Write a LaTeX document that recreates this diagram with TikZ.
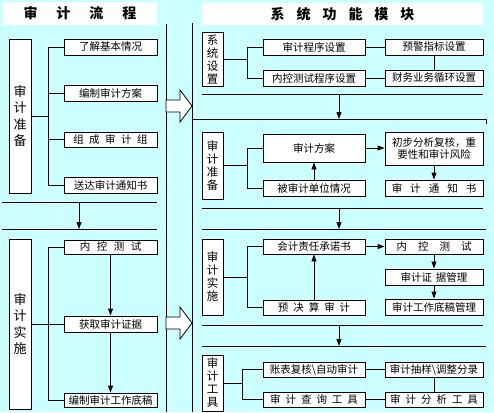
\documentclass[tikz,border=0pt]{standalone}
\usepackage{fontspec}
\newfontfamily\cjk{Noto Sans CJK SC}
\usetikzlibrary{arrows.meta}
\definecolor{PanelCyan}{RGB}{204,255,255}
\begin{document}
\begin{tikzpicture}[x=1pt,y=-1pt,line width=0.9pt,
    box/.style={draw,fill=white,inner sep=0pt,minimum height=16pt,font=\cjk\fontsize{10.5}{12}\selectfont},
    lbox/.style={box,minimum width=93pt},
    mbox/.style={box,minimum width=102pt},
    rbox/.style={box,minimum width=98pt},
    stage/.style={draw,fill=white,inner sep=0pt,minimum width=22pt,align=center,font=\cjk\fontsize{13}{16.5}\selectfont},
    module/.style={draw,fill=white,inner sep=0pt,minimum width=21pt,align=center,font=\cjk\fontsize{11.5}{13}\selectfont},
    titlebar/.style={fill=white,inner sep=0pt,font=\cjk\bfseries\fontsize{14}{16}\selectfont},
    flow/.style={-{Triangle[width=5pt,length=7pt]}},
    fatarrow/.style={draw,fill=white,line width=0.8pt}]
  \useasboundingbox (0,0) rectangle (494,412);
  \fill[PanelCyan] (0,0) rectangle (494,412);

  % titles
  \node[titlebar,minimum width=154pt,minimum height=23pt] (ltitle) at (80,13.5)
    {审\hspace{19pt}计\hspace{19pt}流\hspace{19pt}程};
  \node[titlebar,minimum width=281pt,minimum height=22pt] (rtitle) at (342.5,14)
    {系\hspace{12pt}统\hspace{12pt}功\hspace{12pt}能\hspace{12pt}模\hspace{12pt}块};

  % middle rules and big arrows
  \draw (166,24) -- (166,412);
  \draw (192,23) -- (192,412);
  \draw[fatarrow] (166,100) -- (180,100) -- (180,90) -- (192,106) -- (180,122) -- (180,112) -- (166,112) -- cycle;
  \draw[fatarrow] (166,317) -- (180,317) -- (180,307) -- (192,323) -- (180,339) -- (180,329) -- (166,329) -- cycle;

  % left: audit preparation
  \node[stage,minimum height=154pt] (lprep) at (20,116) {审\\计\\准\\备};
  \node[lbox] (lp1) at (110.5,47) {了解基本情况};
  \node[lbox] (lp2) at (110.5,93) {编制审计方案};
  \node[lbox,minimum height=15pt] (lp3) at (110.5,139.5)
    {组\hspace{5.5pt}成\hspace{5.5pt}审\hspace{5.5pt}计\hspace{5.5pt}组};
  \node[lbox] (lp4) at (110.5,185) {送达审计通知书};
  \coordinate (lbus) at (48,0);
  \draw (lprep.east) -- (lprep.east -| lbus);
  \draw (lp1.west) -- (lp1.west -| lbus) -- (lp4.west -| lbus) -- (lp4.west);
  \draw (lp2.west) -- (lp2.west -| lbus);
  \draw (lp3.west) -- (lp3.west -| lbus);

  \coordinate (lsep1a) at (2,202);
  \coordinate (lsep1b) at (157,202);
  \coordinate (lsep2a) at (2,229);
  \coordinate (lsep2b) at (157,229);
  \coordinate (ldown) at (79,202);
  \draw (lsep1a) -- (lsep1b);
  \draw (lsep2a) -- (lsep2b);
  \draw[flow] (ldown) -- (ldown |- lsep2a);

  % left: audit implementation
  \node[stage,minimum height=170pt] (limpl) at (20,324) {审\\计\\实\\施};
  \node[lbox,minimum height=14pt] (li1) at (110.5,247)
    {内\hspace{6.5pt}控\hspace{6.5pt}测\hspace{6.5pt}试};
  \node[lbox] (li2) at (110.5,324) {获取审计证据};
  \node[lbox,minimum height=14pt] (li3) at (110.5,400) {编制审计工作底稿};
  \draw (limpl.east) -- (limpl.east -| lbus);
  \draw (li1.west) -- (li1.west -| lbus) -- (li3.west -| lbus) -- (li3.west);
  \draw (li2.west) -- (li2.west -| lbus);
  \draw[flow] (li1) -- (li2);
  \draw[flow] (li2) -- (li3);

  % right: system settings
  \node[module,minimum height=54pt] (rset) at (212.5,59) {系\\统\\设\\置};
  \node[mbox] (rs1) at (314,47) {审计程序设置};
  \node[mbox] (rs2) at (314,78) {内控测试程序设置};
  \node[rbox] (rs3) at (434,47) {预警指标设置};
  \node[rbox] (rs4) at (434,78) {财务业务循环设置};
  \coordinate (rbus) at (247,0);
  \draw (rset.east) -- (rset.east -| rbus);
  \draw (rs1.west) -- (rs1.west -| rbus) -- (rs2.west -| rbus) -- (rs2.west);
  \draw (rs1) -- (rs3);
  \draw (rs2) -- (rs4);
  \draw (rs3) -- (rs4);

  \coordinate (rsep1a) at (202,94);
  \coordinate (rsep1b) at (483,94);
  \coordinate (rsep2a) at (192,119);
  \coordinate (rsep2b) at (486,119);
  \coordinate (rdown1) at (339,94);
  \draw (rsep1a) -- (rsep1b);
  \draw (rsep2a) -- (rsep2b) -- ++(0,5);
  \draw[flow] (rdown1) -- (rdown1 |- rsep2a);

  % right: audit preparation
  \node[module,minimum height=67pt] (rprep) at (212.5,165.5) {审\\计\\准\\备};
  \node[mbox,minimum height=28pt] (rp1) at (314,148) {审计方案};
  \node[mbox] (rp2) at (314,188) {被审计单位情况};
  \node[rbox,minimum height=33pt,align=center] (rp3) at (434,148.5) {初步分析复核，重\\要性和审计风险};
  \node[rbox] (rp4) at (434,188) {审\hspace{8pt}计\hspace{8pt}通\hspace{8pt}知\hspace{8pt}书};
  \draw (rprep.east) -- (rprep.east -| rbus);
  \draw (rp1.west) -- (rp1.west -| rbus) -- (rp2.west -| rbus) -- (rp2.west);
  \draw[flow] (rp2) -- (rp1);
  \draw[flow] (rp1.east) -- (rp1.east -| rp3.west);
  \draw[flow] (rp3) -- (rp4);

  \coordinate (rsep3a) at (202,208);
  \coordinate (rsep3b) at (483,208);
  \coordinate (rsep4a) at (202,229);
  \coordinate (rsep4b) at (486,229);
  \coordinate (rdown2) at (339,208);
  \draw (rsep3a) -- (rsep3b);
  \draw (rsep4a) -- (rsep4b);
  \draw[flow] (rdown2) -- (rdown2 |- rsep4a);

  % right: audit implementation
  \node[module,minimum height=76pt] (rimpl) at (212.5,277) {审\\计\\实\\施};
  \node[mbox,minimum height=15pt] (ri1) at (314,246.5) {会计责任承诺书};
  \node[mbox,minimum height=15pt] (ri2) at (314,307.5)
    {预\hspace{5pt}决\hspace{5pt}算\hspace{5pt}审\hspace{5pt}计};
  \node[rbox,minimum height=15pt] (ri3) at (434,246.5)
    {内\hspace{11pt}控\hspace{11pt}测\hspace{11pt}试};
  \node[rbox] (ri4) at (434,277) {审计证\hspace{4pt}据管理};
  \node[rbox] (ri5) at (434,307) {审计工作底稿管理};
  \draw (rimpl.east) -- (rimpl.east -| rbus);
  \draw (ri1.west) -- (ri1.west -| rbus) -- (ri2.west -| rbus) -- (ri2.west);
  \draw[flow] (ri2) -- (ri1);
  \draw[flow] (ri1) -- (ri3);
  \draw[flow] (ri3) -- (ri4);
  \draw[flow] (ri4) -- (ri5);

  \coordinate (rsep5a) at (202,325);
  \coordinate (rsep5b) at (483,325);
  \coordinate (rsep6a) at (202,346);
  \coordinate (rsep6b) at (486,346);
  \coordinate (rdown3) at (339,325);
  \draw (rsep5a) -- (rsep5b);
  \draw (rsep6a) -- (rsep6b);
  \draw[flow] (rdown3) -- (rdown3 |- rsep6a);

  % right: audit tools
  \node[module,minimum height=56pt] (rtool) at (212.5,383) {审\\计\\工\\具};
  \node[mbox,minimum height=15pt] (rt1) at (314,369.5) {账表复核\textbackslash 自动审计};
  \node[mbox,minimum height=15pt] (rt2) at (314,399.5)
    {审\hspace{5pt}计\hspace{5pt}查\hspace{5pt}询\hspace{5pt}工\hspace{5pt}具};
  \node[rbox,minimum height=15pt] (rt3) at (434,369.5) {审计抽样\textbackslash 调整分录};
  \node[rbox,minimum height=15pt] (rt4) at (434,399.5)
    {审\hspace{5pt}计\hspace{5pt}分\hspace{5pt}析\hspace{5pt}工\hspace{5pt}具};
  \coordinate (tbus) at (242,0);
  \draw (rtool.east) -- (rtool.east -| tbus);
  \draw (rt1.west) -- (rt1.west -| tbus) -- (rt2.west -| tbus) -- (rt2.west);
  \draw (rt1) -- (rt3);
  \draw (rt2) -- (rt4);
  \draw (rt3) -- (rt4);
\end{tikzpicture}
\end{document}
